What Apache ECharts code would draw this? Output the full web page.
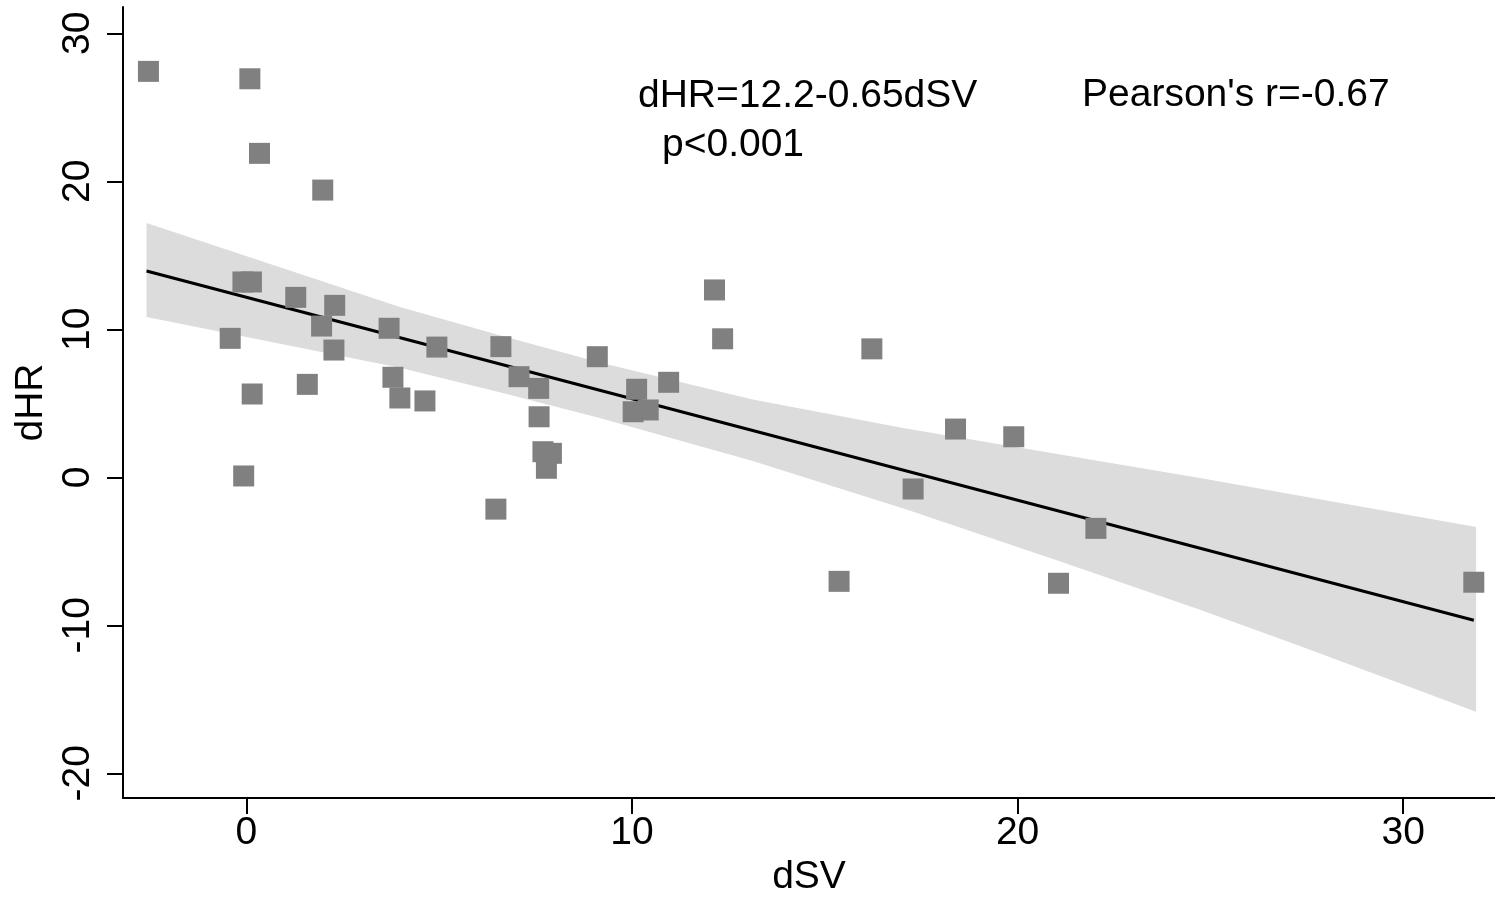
<!DOCTYPE html>
<html>
<head>
<meta charset="utf-8">
<script src="https://cdn.jsdelivr.net/npm/echarts@6/dist/echarts.min.js"></script>
<style>
html,body{margin:0;padding:0;background:#fff;overflow:hidden;}
#chart{width:1495px;height:898px;}
</style>
</head>
<body>
<div id="chart"></div>
<script>
// Scatter data (dSV, dHR)
const dSV = [-2.54, 0.09, 0.34, 1.98, -0.09, 0.13, 1.28, 2.29, 1.95, 3.70, -0.42, 2.27, 4.94, 6.60, 9.10, 1.58, 3.80, 3.98, 4.63, 0.15, 7.07, 7.58, 7.59, 7.69, 7.91, 7.78, -0.07, 6.47, 10.12, 10.03, 10.42, 10.95, 12.14, 12.35, 16.22, 15.37, 17.29, 18.39, 19.90, 21.06, 22.03, 31.83];
const dHR = [27.43, 26.93, 21.89, 19.41, 13.2, 13.2, 12.16, 11.62, 10.22, 10.07, 9.39, 8.6, 8.8, 8.83, 8.15, 6.28, 6.76, 5.36, 5.16, 5.63, 6.8, 6.01, 4.09, 1.73, 1.62, 0.61, 0.09, -2.15, 5.95, 4.43, 4.55, 6.42, 12.66, 9.36, 8.68, -7.03, -0.79, 3.26, 2.74, -7.16, -3.45, -7.09];

// Fitted line end points
const fitX = [-2.59, 31.83];
const fitY = [13.94, -9.66];

// Confidence band
const bandX = [-2.59, 3.98, 6.57, 9.16, 13.13, 17.10, 21.07, 24.73, 27.32, 31.89];
const bandUpper = [17.18, 11.5, 9.6, 7.75, 5.25, 3.3, 1.55, -0.05, -1.25, -3.36];
const bandLower = [10.84, 7.4, 5.75, 4.0, 1.1, -2.15, -5.65, -8.95, -11.4, -15.85];

// Tick labels
const xTicks = [0, 10, 20, 30];
const yTicks = [-20, -10, 0, 10, 20, 30];

// Annotations
const eqText = 'dHR=12.2-0.65dSV';
const pText = 'p<0.001';
const rText = "Pearson's r=-0.67";

const FONT = '"Liberation Sans", Arial, sans-serif';
const FS = 39;

const chart = echarts.init(document.getElementById('chart'), null, {renderer: 'canvas'});

const points = dSV.map((x, i) => [x, dHR[i]]);
const fitData = fitX.map((x, i) => [x, fitY[i]]);

const option = {
  animation: false,
  backgroundColor: '#fff',
  grid: {left: 123, top: 7, right: 0, bottom: 100, containLabel: false, outerBoundsMode: 'none'},
  xAxis: {
    type: 'value',
    min: -3.2,
    max: 32.38,
    name: 'dSV',
    nameLocation: 'middle',
    nameGap: 56,
    nameTextStyle: {fontFamily: FONT, fontSize: FS, color: '#000'},
    axisLine: {show: true, onZero: false, lineStyle: {color: '#000', width: 2}},
    axisTick: {show: true, length: 16, lineStyle: {color: '#000', width: 2}, customValues: xTicks},
    axisLabel: {fontFamily: FONT, fontSize: FS, color: '#000', margin: 16, customValues: xTicks},
    splitLine: {show: false}
  },
  yAxis: {
    type: 'value',
    min: -21.67,
    max: 31.78,
    name: 'dHR',
    nameLocation: 'middle',
    nameGap: 71,
    nameRotate: 90,
    nameTextStyle: {fontFamily: FONT, fontSize: FS, color: '#000'},
    axisLine: {show: true, onZero: false, lineStyle: {color: '#000', width: 2}},
    axisTick: {show: true, length: 16, lineStyle: {color: '#000', width: 2}, customValues: yTicks},
    axisLabel: {fontFamily: FONT, fontSize: FS, color: '#000', margin: 25, rotate: 90, customValues: yTicks},
    splitLine: {show: false}
  },
  series: [
    {
      type: 'custom',
      z: 1,
      silent: true,
      data: [0],
      renderItem: function (params, api) {
        const pts = [];
        for (let i = 0; i < bandX.length; i++) pts.push(api.coord([bandX[i], bandUpper[i]]));
        for (let i = bandX.length - 1; i >= 0; i--) pts.push(api.coord([bandX[i], bandLower[i]]));
        return {
          type: 'polygon',
          shape: {points: pts, smooth: 0},
          style: {fill: '#dcdcdc', stroke: null}
        };
      }
    },
    {
      type: 'line',
      z: 2,
      data: fitData,
      symbol: 'none',
      lineStyle: {color: '#000', width: 3}
    },
    {
      type: 'scatter',
      z: 3,
      data: points,
      symbol: 'rect',
      symbolSize: 21,
      itemStyle: {color: '#808080', opacity: 1}
    }
  ],
  graphic: [
    {type: 'text', x: 638, y: 96, style: {text: eqText, font: FS + 'px ' + FONT, fill: '#000', verticalAlign: 'middle'}},
    {type: 'text', x: 662, y: 145, style: {text: pText, font: FS + 'px ' + FONT, fill: '#000', verticalAlign: 'middle'}},
    {type: 'text', x: 1082, y: 95, style: {text: rText, font: FS + 'px ' + FONT, fill: '#000', verticalAlign: 'middle'}}
  ]
};

chart.setOption(option);
</script>
</body>
</html>
